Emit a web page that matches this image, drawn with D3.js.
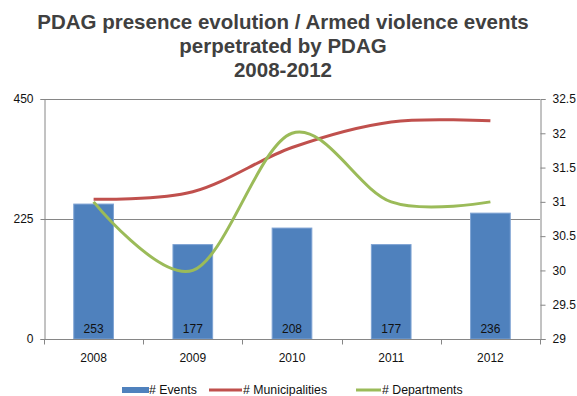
<!DOCTYPE html>
<html><head><meta charset="utf-8">
<script src="https://cdn.jsdelivr.net/npm/d3@7"></script>
<style>body{margin:0;background:#fff}svg{display:block}text{font-family:"Liberation Sans",Arial,sans-serif}</style>
</head><body><svg id="c" width="577" height="396"></svg>
<script>
const years = ["2008","2009","2010","2011","2012"];
const events = [253,177,208,177,236];
const municipalities = [262,276,359,407,409];
const departments = [31,30,32,31,31];
const leftTicks = [0,225,450];
const rightTicks = [29,29.5,30,30.5,31,31.5,32,32.5];
const titleLines = ["PDAG presence evolution / Armed violence events","perpetrated by PDAG","2008-2012"];

const svg = d3.select("#c");
const L=44, R=540, T=99, B=339;
const x = d3.scaleBand().domain(years).range([L,R]).paddingInner(0).paddingOuter(0);
const yL = d3.scaleLinear().domain([0,450]).range([B,T]);
const yR = d3.scaleLinear().domain([29,32.5]).range([B,T]);
const grey="#868686";

// title
svg.append("g").selectAll("text").data(titleLines).join("text")
  .attr("x",283).attr("y",(d,i)=>29+i*24).attr("text-anchor","middle")
  .attr("font-size",20.5).attr("font-weight","bold").attr("fill","#404040").text(d=>d);

// gridlines
svg.append("g").selectAll("line").data(leftTicks).join("line")
  .attr("x1",L).attr("x2",R).attr("y1",d=>Math.round(yL(d))+0.5).attr("y2",d=>Math.round(yL(d))+0.5)
  .attr("stroke",grey).attr("stroke-width",1);

// bars
const bw = x.bandwidth()*0.4;
svg.append("g").selectAll("rect").data(events).join("rect")
  .attr("x",(d,i)=>x(years[i])+x.bandwidth()/2-bw/2).attr("width",bw)
  .attr("y",d=>yL(d)).attr("height",d=>B-yL(d))
  .attr("fill","#4F81BD").attr("stroke","#7EA3D3").attr("stroke-width",1);

// bar labels
svg.append("g").selectAll("text").data(events).join("text")
  .attr("x",(d,i)=>x(years[i])+x.bandwidth()/2).attr("y",333).attr("text-anchor","middle")
  .attr("font-size",12).attr("fill","#111").text(d=>d);

// axes
const axL = d3.axisLeft(yL).tickValues(leftTicks).tickSize(4).tickPadding(7);
const gL = svg.append("g").attr("transform",`translate(${L+0.5},0)`).call(axL);
const axR = d3.axisRight(yR).tickValues(rightTicks).tickSize(5).tickPadding(7).tickFormat(d3.format("~g"));
const gR = svg.append("g").attr("transform",`translate(${R+0.5},0)`).call(axR);
const xTickScale = d3.scaleLinear().domain([0,5]).range([L,R]);
const gX = svg.append("g").attr("transform",`translate(0,${B+0.5})`);
gX.append("line").attr("x1",L).attr("x2",R+1).attr("stroke",grey);
gX.selectAll("line.t").data(d3.range(6)).join("line").attr("class","t")
  .attr("x1",d=>Math.round(xTickScale(d))+0.5).attr("x2",d=>Math.round(xTickScale(d))+0.5).attr("y1",0).attr("y2",5).attr("stroke",grey);
gX.selectAll("text").data(years).join("text")
  .attr("x",d=>x(d)+x.bandwidth()/2).attr("y",22).attr("text-anchor","middle")
  .attr("font-size",12).attr("fill","#111").text(d=>d);
[gL,gR].forEach(g=>{
  g.select(".domain").attr("stroke",grey);
  g.selectAll(".tick line").attr("stroke",grey);
  g.selectAll(".tick text").attr("font-size",12).attr("fill","#111").attr("font-family","'Liberation Sans',Arial,sans-serif");
});

// lines
const curve = d3.curveCardinal.tension(0);
const cx = (d,i)=>x(years[i])+x.bandwidth()/2;
svg.append("path").datum(municipalities)
  .attr("d",d3.line().x(cx).y(d=>yL(d)).curve(curve))
  .attr("fill","none").attr("stroke","#C0504D").attr("stroke-width",3);
svg.append("path").datum(departments)
  .attr("d",d3.line().x(cx).y(d=>yR(d)).curve(curve))
  .attr("fill","none").attr("stroke","#9BBB59").attr("stroke-width",3);

// legend
const lg = svg.append("g");
lg.append("rect").attr("x",122).attr("y",387).attr("width",27).attr("height",6).attr("fill","#4F81BD");
lg.append("text").attr("x",149).attr("y",393.5).attr("font-size",12.3).attr("fill","#111").text("# Events");
lg.append("line").attr("x1",209).attr("x2",242).attr("y1",390).attr("y2",390).attr("stroke","#C0504D").attr("stroke-width",3);
lg.append("text").attr("x",243).attr("y",393.5).attr("font-size",12.3).attr("fill","#111").text("# Municipalities");
lg.append("line").attr("x1",356).attr("x2",381).attr("y1",390).attr("y2",390).attr("stroke","#9BBB59").attr("stroke-width",3);
lg.append("text").attr("x",382).attr("y",393.5).attr("font-size",12.3).attr("fill","#111").text("# Departments");
</script></body></html>
